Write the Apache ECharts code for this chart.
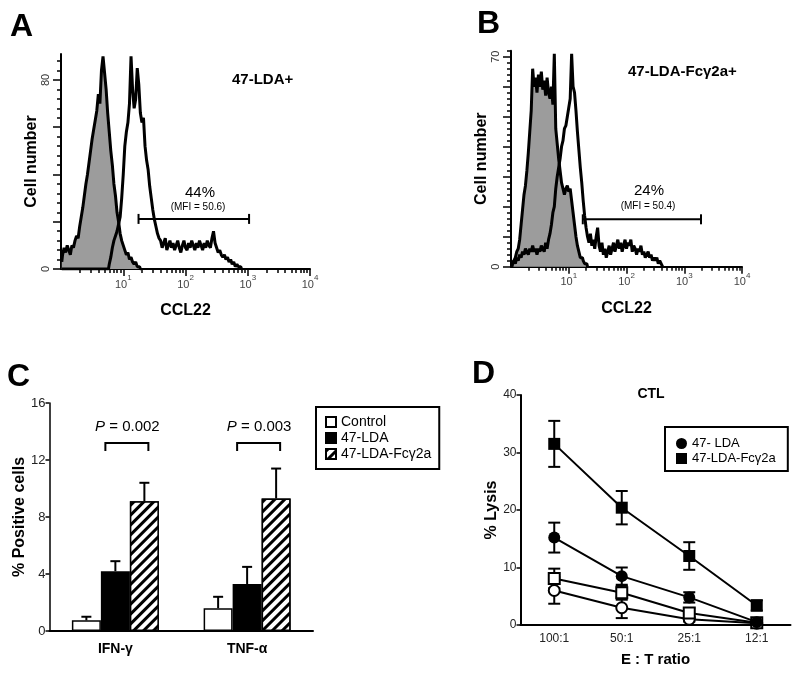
<!DOCTYPE html>
<html><head><meta charset="utf-8">
<script src="https://cdn.jsdelivr.net/npm/echarts@6/dist/echarts.min.js"></script>
<style>html,body{margin:0;padding:0;background:#fff}#c{width:800px;height:675px}</style>
</head><body><div id="c"></div>
<script>
// ---------------- DATA ----------------
// Flow histograms: bin centres in log10(CCL22) units
const histBinStartLog = 0.0125;
const histBinStepLog = 0.025;
const histA_control = [3,6,9,7,10,8,6,10,9,12,14,13,18,22,26,31,36,40,45,50,55,59,63,67,74,70,84,90,83,76,66,58,50,44,36,31,24,20,15,12,10,8,6,7,4,5,3,2,3,1,1,0];
const histA_lda = [0,0,0,0,0,0,0,0,0,0,0,0,0,0,0,0,0,0,0,0,0,0,0,0,0,0,0,0,0,0,
  0,2,5,9,12,14,16,19,22,30,
  40,52,58,62,70,90,76,68,72,85,
  78,66,62,64,52,46,42,35,30,25,
  21,18,15,13,12,9,11,13,8,10,
  12,9,11,8,10,12,9,7,10,12,
  9,8,11,9,12,10,8,11,9,12,
  10,8,11,9,12,10,9,13,16,11,
  9,7,8,6,5,6,4,5,3,4,
  2,3,1,2,1,1,0];
const histB_control = [0,1,2,3,5,6,9,14,19,24,27,32,38,45,52,66,60,63,58,64,60,65,59,62,57,63,58,56,60,54,71,46,41,36,32,28,26,24,26,27,25,26,22,18,14,10,7,5,3,3,2,1,1,0];
const histB_ldaFc = [0,1,2,1,3,2,4,3,5,4,
  6,5,4,6,5,7,5,6,4,6,
  5,7,6,5,8,6,9,11,14,18,
  20,26,30,33,36,40,42,46,47,50,
  53,56,71,60,58,52,45,39,33,28,
  22,17,13,10,8,11,7,9,6,10,
  13,7,5,8,4,6,3,5,7,4,
  6,8,5,7,9,6,8,5,7,9,
  6,8,7,9,5,7,6,4,6,5,
  7,4,5,3,4,5,3,4,2,3,
  2,3,1,2,1,0];
const gateA_range = [17.6, 1050];
const gateA_level = 21.2;
const gateB_range = [17.5, 1950];
const gateB_level = 15.8;
const gateA_texts = ['44%', '(MFI = 50.6)'];
const gateB_texts = ['24%', '(MFI = 50.4)'];
const decadeLabels = [10, 100, 1000, 10000];
const histA_yLabels = [0, 80];
const histB_yLabels = [0, 70];

// Panel C
const cytoCategories = ['IFN-γ', 'TNF-α'];
const cytoControl = [0.75, 1.6];
const cytoControlErr = [0.25, 0.8];
const cytoLDA = [4.2, 3.3];
const cytoLDAErr = [0.7, 1.2];
const cytoLDAFc = [9.1, 9.3];
const cytoLDAFcErr = [1.3, 2.1];
const cytoPValues = ['0.002', '0.003'];

// Panel D
const ctlRatios = ['100:1', '50:1', '25:1', '12:1'];
const ctlLDA = [15.2, 8.5, 4.8, 0.5];
const ctlLDAErr = [2.6, 1.5, 0.9, 0.3];
const ctlLDAFc = [31.5, 20.4, 12.0, 3.4];
const ctlLDAFcErr = [4.0, 2.9, 2.4, 0.9];
const ctlLDACtrl = [6.0, 3.0, 1.0, 0.3];
const ctlLDACtrlErr = [2.3, 1.8, 0.4, 0.2];
const ctlLDAFcCtrl = [8.1, 5.6, 2.1, 0.4];
const ctlLDAFcCtrlErr = [1.7, 1.2, 0.8, 0.3];

// ---------------- CHART ----------------
const FONT = '"Liberation Sans", Arial, Helvetica, sans-serif';
const chart = echarts.init(document.getElementById('c'));

function histPoints(arr) {
  return arr.map((v, i) => [Math.pow(10, histBinStartLog + i * histBinStepLog), v]);
}
const minorLogTicks = [];
[1, 10, 100, 1000].forEach(d => { for (let k = 2; k <= 9; k++) minorLogTicks.push(d * k); });
function minorLinear(step, majorStep, max) {
  const out = [];
  for (let v = step; v <= max + 1e-9; v += step) if (Math.abs(v / majorStep - Math.round(v / majorStep)) > 1e-6) out.push(v);
  return out;
}
function majorLinear(step, max) { const out = []; for (let v = 0; v <= max + 1e-9; v += step) out.push(v); return out; }

const axLine = { show: true, lineStyle: { color: '#000', width: 2 } };
const tickStyle = { color: '#000', width: 1.5 };

function logXAxes(gridIndex, name, nameGap) {
  return [{
    type: 'log', logBase: 10, gridIndex, min: 1, max: 10000, position: 'bottom',
    axisLine: axLine,
    axisTick: { show: true, customValues: decadeLabels, length: 7, lineStyle: tickStyle },
    axisLabel: {
      customValues: decadeLabels, margin: 5,
      formatter: v => '{b|10}{s|' + Math.round(Math.log10(v)) + '}',
      rich: {
        b: { fontSize: 11, color: '#444', fontFamily: FONT, verticalAlign: 'bottom', lineHeight: 16 },
        s: { fontSize: 8, color: '#444', fontFamily: FONT, verticalAlign: 'top', lineHeight: 8 }
      }
    },
    splitLine: { show: false }, minorSplitLine: { show: false },
    name, nameLocation: 'middle', nameGap,
    nameTextStyle: { fontSize: 16, fontWeight: 'bold', color: '#000', fontFamily: FONT }
  }, {
    type: 'log', logBase: 10, gridIndex, min: 1, max: 10000, position: 'bottom',
    axisLine: { show: false },
    axisTick: { show: true, customValues: minorLogTicks, length: 4, lineStyle: tickStyle },
    axisLabel: { show: false }, splitLine: { show: false }
  }];
}
function histYAxes(gridIndex, max, majorStep, minorStep, labels, nameGap) {
  return [{
    type: 'value', gridIndex, min: 0, max, position: 'left',
    axisLine: axLine,
    axisTick: { show: true, customValues: majorLinear(majorStep, max), length: 8, lineStyle: tickStyle },
    axisLabel: { customValues: labels, rotate: 90, margin: 10, fontSize: 11, color: '#333', fontFamily: FONT },
    splitLine: { show: false },
    name: 'Cell number', nameLocation: 'middle', nameGap, nameRotate: 90,
    nameTextStyle: { fontSize: 16, fontWeight: 'bold', color: '#000', fontFamily: FONT }
  }, {
    type: 'value', gridIndex, min: 0, max, position: 'left',
    axisLine: { show: false },
    axisTick: { show: true, customValues: minorLinear(minorStep, majorStep, max), length: 4, lineStyle: tickStyle },
    axisLabel: { show: false }, splitLine: { show: false }
  }];
}

const xA = logXAxes(0, 'CCL22', 34);
const xB = logXAxes(1, 'CCL22', 34);
const yA = histYAxes(0, 91, 20, 4, histA_yLabels, 20);
const yB = histYAxes(1, 72, 10, 2, histB_yLabels, 19);

const BAR_W = 29;
const histLine = { color: '#000', width: 3 };

function renderCytoErr(params, api) {
  const cat = api.value(0), v = api.value(1), top = api.value(2), slot = api.value(3);
  const base = api.coord([cat, v]);
  const t = api.coord([cat, top]);
  const x = base[0] + (slot - 1) * BAR_W;
  const st = { stroke: '#000', lineWidth: 2 };
  return { type: 'group', children: [
    { type: 'line', shape: { x1: x, y1: base[1], x2: x, y2: t[1] }, style: st },
    { type: 'line', shape: { x1: x - 5, y1: t[1], x2: x + 5, y2: t[1] }, style: st }
  ]};
}
function renderSig(params, api) {
  const cat = api.value(0), level = api.value(1);
  const p = api.coord([cat, level]);
  const x0 = p[0] - 10, x1 = p[0] + 33, y = p[1];
  return { type: 'group', children: [
    { type: 'polyline', shape: { points: [[x0, y + 8], [x0, y], [x1, y], [x1, y + 8]] }, style: { stroke: '#000', lineWidth: 2, fill: null } },
    { type: 'text', x: p[0] + 12, y: y - 16, style: {
      text: '{i|P} = ' + cytoPValues[params.dataIndex], align: 'center', verticalAlign: 'middle',
      fontSize: 15, fontFamily: FONT, fill: '#000',
      rich: { i: { fontStyle: 'italic', fontSize: 15, fontFamily: FONT, fill: '#000' } } } }
  ]};
}
function renderCtlErr(params, api) {
  const cat = api.value(0), lo = api.value(1), hi = api.value(2);
  const a = api.coord([cat, lo]), b = api.coord([cat, hi]);
  const st = { stroke: '#000', lineWidth: 2 };
  return { type: 'group', children: [
    { type: 'line', shape: { x1: a[0], y1: a[1], x2: b[0], y2: b[1] }, style: st },
    { type: 'line', shape: { x1: a[0] - 6, y1: a[1], x2: a[0] + 6, y2: a[1] }, style: st },
    { type: 'line', shape: { x1: b[0] - 6, y1: b[1], x2: b[0] + 6, y2: b[1] }, style: st }
  ]};
}

const cytoErrData = [];
[[cytoControl, cytoControlErr], [cytoLDA, cytoLDAErr], [cytoLDAFc, cytoLDAFcErr]].forEach((pair, slot) => {
  pair[0].forEach((v, i) => cytoErrData.push([i, v, v + pair[1][i], slot]));
});
const ctlErrData = [];
[[ctlLDACtrl, ctlLDACtrlErr], [ctlLDAFcCtrl, ctlLDAFcCtrlErr], [ctlLDA, ctlLDAErr], [ctlLDAFc, ctlLDAFcErr]].forEach(pair => {
  pair[0].forEach((v, i) => ctlErrData.push([i, v - pair[1][i], v + pair[1][i]]));
});

function txt(x, y, text, size, weight, align, extra) {
  return Object.assign({ type: 'text', x, y, z: 100, style: {
    text, fontSize: size, fontWeight: weight || 'normal', fontFamily: FONT, fill: '#000',
    align: align || 'left', verticalAlign: 'middle' } }, extra || {});
}

const option = {
  animation: false,
  backgroundColor: '#fff',
  textStyle: { fontFamily: FONT },
  grid: [
    { left: 61, top: 54, width: 249, height: 215, containLabel: false, outerBoundsMode: 'none' },
    { left: 511, top: 50.7, width: 231, height: 216, containLabel: false, outerBoundsMode: 'none' },
    { left: 49.5, top: 403, width: 263.5, height: 228, containLabel: false, outerBoundsMode: 'none' },
    { left: 520.5, top: 395, width: 270, height: 230, containLabel: false, outerBoundsMode: 'none' }
  ],
  xAxis: [
    xA[0], xA[1], xB[0], xB[1],
    { type: 'category', gridIndex: 2, data: cytoCategories,
      axisLine: axLine, axisTick: { show: false },
      axisLabel: { fontSize: 14, fontWeight: 'bold', color: '#000', margin: 11, fontFamily: FONT } },
    { type: 'category', gridIndex: 3, data: ctlRatios, boundaryGap: true,
      axisLine: axLine, axisTick: { show: false },
      axisLabel: { fontSize: 12, color: '#222', margin: 8, fontFamily: FONT },
      name: 'E : T ratio', nameLocation: 'middle', nameGap: 27,
      nameTextStyle: { fontSize: 15, fontWeight: 'bold', color: '#000', fontFamily: FONT } }
  ],
  yAxis: [
    yA[0], yA[1], yB[0], yB[1],
    { type: 'value', gridIndex: 2, min: 0, max: 16, interval: 4,
      axisLine: { show: true, lineStyle: { color: '#000', width: 1.5 } },
      axisTick: { show: true, length: 4, lineStyle: tickStyle },
      axisLabel: { fontSize: 13, color: '#222', margin: 4, fontFamily: FONT },
      splitLine: { show: false },
      name: '% Positive cells', nameLocation: 'middle', nameGap: 21, nameRotate: 90,
      nameTextStyle: { fontSize: 16, fontWeight: 'bold', color: '#000', fontFamily: FONT } },
    { type: 'value', gridIndex: 3, min: 0, max: 40, interval: 10,
      axisLine: axLine,
      axisTick: { show: true, length: 4, lineStyle: tickStyle },
      axisLabel: { fontSize: 12, color: '#222', margin: 4, fontFamily: FONT },
      splitLine: { show: false },
      name: '% Lysis', nameLocation: 'middle', nameGap: 20, nameRotate: 90,
      nameTextStyle: { fontSize: 16, fontWeight: 'bold', color: '#000', fontFamily: FONT } }
  ],
  legend: [
    { orient: 'vertical', left: 316, top: 407, padding: [8, 8, 8, 9], itemGap: 2,
      itemWidth: 10, itemHeight: 10, icon: 'rect', borderColor: '#000', borderWidth: 2,
      selectedMode: false, textStyle: { fontSize: 14, color: '#000', fontFamily: FONT },
      data: ['Control', '47-LDA', '47-LDA-Fcγ2a'] },
    { orient: 'vertical', left: 665, top: 427, padding: [10, 12, 6, 11], itemGap: 2,
      itemWidth: 11, itemHeight: 11, borderColor: '#000', borderWidth: 2,
      selectedMode: false, textStyle: { fontSize: 13, color: '#000', fontFamily: FONT },
      formatter: n => n.replace(' (CTL)', ''),
      data: [{ name: '47- LDA', icon: 'circle' }, { name: '47-LDA-Fcγ2a (CTL)', icon: 'rect' }] }
  ],
  series: [
    // Panel A
    { type: 'line', name: 'A control', xAxisIndex: 0, yAxisIndex: 0, step: 'middle', symbol: 'none',
      data: histPoints(histA_control), lineStyle: histLine, areaStyle: { color: '#9c9c9c', opacity: 1 }, z: 2 },
    { type: 'line', name: 'A 47-LDA+', xAxisIndex: 0, yAxisIndex: 0, step: 'middle', symbol: 'none',
      data: histPoints(histA_lda), lineStyle: histLine, z: 3 },
    { type: 'line', name: 'A gate', xAxisIndex: 0, yAxisIndex: 0, symbol: 'rect', symbolSize: [2, 10],
      data: gateA_range.map(v => [v, gateA_level]), lineStyle: { color: '#000', width: 2 },
      itemStyle: { color: '#000' }, z: 4 },
    // Panel B
    { type: 'line', name: 'B control', xAxisIndex: 2, yAxisIndex: 2, step: 'middle', symbol: 'none',
      data: histPoints(histB_control), lineStyle: histLine, areaStyle: { color: '#9c9c9c', opacity: 1 }, z: 2 },
    { type: 'line', name: 'B 47-LDA-Fcγ2a+', xAxisIndex: 2, yAxisIndex: 2, step: 'middle', symbol: 'none',
      data: histPoints(histB_ldaFc), lineStyle: histLine, z: 3 },
    { type: 'line', name: 'B gate', xAxisIndex: 2, yAxisIndex: 2, symbol: 'rect', symbolSize: [2, 10],
      data: gateB_range.map(v => [v, gateB_level]), lineStyle: { color: '#000', width: 2 },
      itemStyle: { color: '#000' }, z: 4 },
    // Panel C
    { type: 'bar', name: 'Control', xAxisIndex: 4, yAxisIndex: 4, data: cytoControl, barWidth: BAR_W, barGap: '0%',
      itemStyle: { color: '#fff', borderColor: '#000', borderWidth: 1.5 } },
    { type: 'bar', name: '47-LDA', xAxisIndex: 4, yAxisIndex: 4, data: cytoLDA, barWidth: BAR_W, barGap: '0%',
      itemStyle: { color: '#000', borderColor: '#000', borderWidth: 1.5 } },
    { type: 'bar', name: '47-LDA-Fcγ2a', xAxisIndex: 4, yAxisIndex: 4, data: cytoLDAFc, barWidth: BAR_W, barGap: '0%',
      itemStyle: { color: '#fff', borderColor: '#000', borderWidth: 1.5,
        decal: { symbol: 'rect', symbolSize: 1, dashArrayX: [1, 0], dashArrayY: [2.4, 4], rotation: -Math.PI / 4, color: '#000', backgroundColor: '#fff' } } },
    { type: 'custom', name: 'C err', xAxisIndex: 4, yAxisIndex: 4, data: cytoErrData, renderItem: renderCytoErr,
      encode: { x: 0, y: [1, 2] }, z: 5 },
    { type: 'custom', name: 'C sig', xAxisIndex: 4, yAxisIndex: 4, data: [[0, 13.2], [1, 13.2]], renderItem: renderSig,
      encode: { x: 0, y: 1 }, z: 5 },
    // Panel D
    { type: 'custom', name: 'D err', xAxisIndex: 5, yAxisIndex: 5, data: ctlErrData, renderItem: renderCtlErr,
      encode: { x: 0, y: [1, 2] }, z: 2 },
    { type: 'line', name: 'D LDA control', xAxisIndex: 5, yAxisIndex: 5, data: ctlLDACtrl, symbol: 'circle', symbolSize: 11,
      lineStyle: { color: '#000', width: 2 }, itemStyle: { color: '#fff', borderColor: '#000', borderWidth: 2 }, z: 3 },
    { type: 'line', name: 'D LDA-Fc control', xAxisIndex: 5, yAxisIndex: 5, data: ctlLDAFcCtrl, symbol: 'rect', symbolSize: 11,
      lineStyle: { color: '#000', width: 2 }, itemStyle: { color: '#fff', borderColor: '#000', borderWidth: 2 }, z: 3 },
    { type: 'line', name: '47- LDA', xAxisIndex: 5, yAxisIndex: 5, data: ctlLDA, symbol: 'circle', symbolSize: 12,
      lineStyle: { color: '#000', width: 2 }, itemStyle: { color: '#000' }, z: 4 },
    { type: 'line', name: '47-LDA-Fcγ2a (CTL)', xAxisIndex: 5, yAxisIndex: 5, data: ctlLDAFc, symbol: 'rect', symbolSize: 12,
      lineStyle: { color: '#000', width: 2 }, itemStyle: { color: '#000' }, z: 4 }
  ],
  graphic: [
    txt(10, 27, 'A', 32, 'bold'),
    txt(477, 24, 'B', 32, 'bold'),
    txt(7, 377, 'C', 32, 'bold'),
    txt(472, 374, 'D', 32, 'bold'),
    txt(232, 80, '47-LDA+', 15, 'bold'),
    txt(200, 192.5, gateA_texts[0], 15, 'normal', 'center'),
    txt(198, 207.5, gateA_texts[1], 10, 'normal', 'center'),
    txt(628, 72, '47-LDA-Fcγ2a+', 15, 'bold'),
    txt(649, 191, gateB_texts[0], 15, 'normal', 'center'),
    txt(648, 206, gateB_texts[1], 10, 'normal', 'center'),
    txt(651, 394, 'CTL', 14, 'bold', 'center')
  ]
};
chart.setOption(option);
</script></body></html>
